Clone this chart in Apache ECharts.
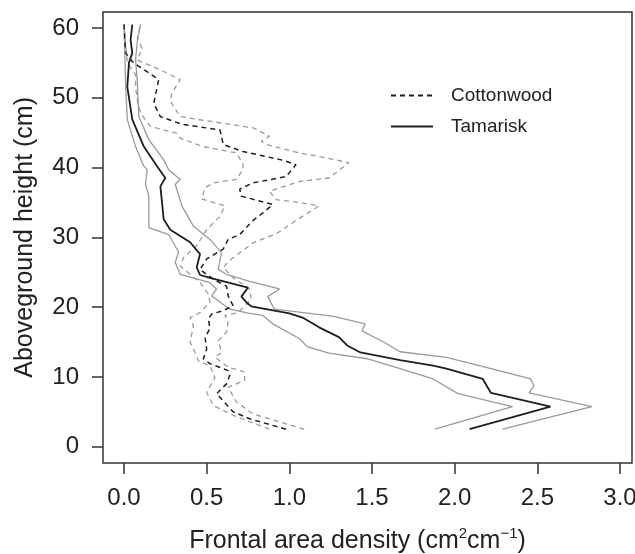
<!DOCTYPE html>
<html lang="en">
<head>
    <meta charset="UTF-8">
    <title>Frontal area density</title>
    <script src="https://cdn.jsdelivr.net/npm/echarts@6/dist/echarts.min.js"></script>
    <style>
        body {
            margin: 0;
            background: #fff;
        }
        #main {
            width: 635px;
            height: 554px;
        }
    </style>
</head>
<body>
    <div id="main"></div>
    <script>
        // [height (cm), frontal area density]
        var cottonwoodMean = [[2.5,0.98],[4,0.76],[5,0.66],[7.6,0.56],[9,0.62],[10.2,0.64],[10.9,0.63],[11.9,0.52],[12.6,0.48],[14,0.5],[15.7,0.49],[16.9,0.52],[18.3,0.51],[19,0.53],[19.5,0.6],[20.2,0.66],[21.6,0.63],[23,0.62],[24,0.54],[25.4,0.46],[26.9,0.5],[28.3,0.6],[29.7,0.63],[30.4,0.7],[32.4,0.78],[33.5,0.84],[34.7,0.9],[35.9,0.71],[36.9,0.7],[37.8,0.78],[38.7,0.98],[40.4,1.04],[41,0.97],[42.3,0.72],[43.3,0.6],[44.5,0.59],[45.4,0.58],[46.2,0.35],[47.3,0.22],[49.2,0.18],[52.6,0.21],[54.5,0.09],[55.2,0.05],[56.4,0.01],[60.5,0.0]]
        var cottonwoodUpper = [[2.5,1.09],[4.7,0.78],[6.4,0.68],[8.5,0.63],[9.5,0.73],[10.7,0.73],[11.4,0.63],[12.8,0.55],[13.5,0.59],[15.2,0.57],[16.4,0.62],[18,0.63],[18.8,0.61],[19.2,0.69],[21.1,0.77],[22.6,0.76],[24.2,0.66],[25.7,0.6],[26.9,0.65],[29.2,0.78],[30.5,0.92],[32.1,1.02],[33,1.08],[34.5,1.18],[35,1.06],[35.4,0.92],[36.6,0.88],[38,1.06],[38.5,1.24],[40.7,1.36],[41.4,1.22],[42.1,1.06],[43.3,0.86],[43.8,0.83],[44.5,0.88],[45.7,0.78],[46.7,0.5],[47.3,0.34],[49.5,0.28],[50.7,0.29],[52.6,0.34],[54,0.22],[55.4,0.08],[57.1,0.11],[58.5,0.08],[60.5,0.1]]
        var cottonwoodLower = [[2.5,0.88],[4.5,0.66],[5.9,0.54],[7.8,0.5],[9.9,0.55],[11.6,0.52],[12.3,0.45],[13.5,0.43],[15,0.4],[17.3,0.42],[18.5,0.4],[19.2,0.46],[20.7,0.52],[21.9,0.51],[23.5,0.46],[25.9,0.34],[27.1,0.36],[28.8,0.44],[31.1,0.5],[33,0.58],[34.5,0.61],[35,0.54],[35.5,0.47],[37.1,0.49],[37.8,0.54],[38.3,0.68],[39.7,0.72],[40.5,0.72],[42.1,0.68],[43,0.48],[44.2,0.34],[44.9,0.32],[45.9,0.16],[47.8,0.1],[49.7,0.08],[51.6,0.07],[53.3,0.07],[55,0.02],[60.5,0.0]]

        var tamariskMean = [[2.5,2.09],[5.75,2.58],[7.7,2.22],[9.7,2.17],[11.2,1.95],[11.6,1.87],[12.4,1.67],[13.5,1.43],[14.5,1.35],[15.7,1.3],[17.1,1.18],[18.5,1.08],[19.1,1.0],[20.1,0.77],[20.7,0.74],[21.5,0.71],[22.8,0.75],[24.2,0.52],[24.6,0.46],[25.7,0.44],[27.6,0.46],[29.3,0.4],[31.1,0.28],[32.6,0.24],[35,0.23],[37.3,0.22],[38.5,0.25],[40.2,0.2],[43,0.12],[46.9,0.05],[51.6,0.02],[55,0.03],[56.4,0.05],[58.3,0.04],[60.5,0.05]]
        var tamariskUpper = [[2.5,2.29],[5.75,2.83],[7.7,2.45],[8.7,2.48],[9.7,2.46],[11.6,2.15],[12.8,1.95],[13.6,1.67],[15,1.57],[16.6,1.44],[17.6,1.46],[18.7,1.26],[19.7,0.91],[21.5,0.87],[22.6,0.94],[23.7,0.76],[24.7,0.62],[25.4,0.57],[27.8,0.59],[29.7,0.52],[31.6,0.42],[34.5,0.35],[37.6,0.31],[38.3,0.34],[39.7,0.27],[41.1,0.24],[44,0.15],[47.3,0.09],[52.6,0.08],[55.4,0.07],[58,0.08],[60.5,0.1]]
        var tamariskLower = [[2.5,1.88],[5.75,2.35],[7.6,2.02],[9.7,1.87],[11.2,1.67],[12.6,1.47],[13.4,1.24],[14.3,1.11],[15.5,1.06],[17.6,0.9],[18.8,0.84],[19.1,0.76],[19.7,0.64],[21.6,0.53],[22.6,0.56],[23.5,0.52],[24.7,0.34],[26.4,0.31],[27.9,0.33],[30.4,0.27],[31.4,0.15],[35.9,0.15],[37.6,0.13],[39.7,0.14],[40.2,0.12],[43,0.07],[46.9,0.02],[51.6,0.01],[60.5,0.0]]

        var font = 'Liberation Sans, Arial, sans-serif'
        var black = '#1e1e1e'
        var grey = '#9a9a9a'

        function xy(rows) {
            return rows.map(function(r) { return [r[1], r[0]] })
        }

        function line(name, rows, color, width, dashed) {
            return {
                name: name,
                type: 'line',
                xAxisIndex: 0,
                yAxisIndex: 0,
                data: xy(rows),
                symbol: 'none',
                animation: false,
                lineStyle: {
                    color: color,
                    width: width,
                    type: dashed ? [5, 4] : 'solid'
                },
                itemStyle: { color: color }
            }
        }

        var myChart = echarts.init(document.getElementById('main'))

        var tickStyle = {
            show: true,
            length: 11,
            lineStyle: { color: '#333', width: 1.5 }
        }
        var bare = {
            type: 'value',
            axisLine: { show: false, onZero: false },
            axisTick: { show: false },
            axisLabel: { show: false },
            splitLine: { show: false }
        }

        // grid 0 holds the data and the box, grid 1 the x ticks (0..3), grid 2 the y ticks (0..60)
        var option = {
            backgroundColor: '#fff',
            textStyle: { fontFamily: font },
            grid: [{
                show: true,
                left: 103, right: 3, top: 12, bottom: 91,
                borderColor: '#333',
                borderWidth: 1.5,
                outerBoundsMode: 'none'
            }, {
                left: 124, right: 15, top: 12, bottom: 91,
                outerBoundsMode: 'none'
            }, {
                left: 103, right: 3, top: 28, bottom: 107.3,
                outerBoundsMode: 'none'
            }],
            legend: {
                data: ['Cottonwood', 'Tamarisk'],
                orient: 'vertical',
                left: 390,
                top: 86,
                padding: 0,
                itemWidth: 42,
                itemHeight: 14,
                itemGap: 12,
                itemStyle: { opacity: 0 },
                textStyle: {
                    fontSize: 19,
                    color: '#222',
                    fontFamily: font,
                    padding: [0, 0, 0, 13]
                }
            },
            xAxis: [
                Object.assign({}, bare, { gridIndex: 0, min: -0.127, max: 3.073 }),
                {
                    type: 'value',
                    gridIndex: 1,
                    min: 0,
                    max: 3,
                    interval: 0.5,
                    position: 'bottom',
                    axisLine: { show: false, onZero: false },
                    splitLine: { show: false },
                    axisTick: tickStyle,
                    axisLabel: {
                        margin: 23,
                        fontSize: 24,
                        color: '#222',
                        fontFamily: font,
                        formatter: function(v) { return v.toFixed(1) }
                    },
                    name: '{a|Frontal area density (cm}{s|2}{a|cm}{s|\u22121}{a|)}',
                    nameLocation: 'middle',
                    nameGap: 63,
                    nameTextStyle: {
                        padding: [0, 29, 0, 0],
                        rich: {
                            a: { fontSize: 25, color: '#222', fontFamily: font, lineHeight: 30 },
                            s: { fontSize: 15, color: '#222', fontFamily: font, verticalAlign: 'top', lineHeight: 14 }
                        }
                    }
                },
                Object.assign({}, bare, { gridIndex: 2, min: 0, max: 1, show: false })
            ],
            yAxis: [
                Object.assign({}, bare, { gridIndex: 0, min: -2.34, max: 62.29 }),
                Object.assign({}, bare, { gridIndex: 1, min: 0, max: 1, show: false }),
                {
                    type: 'value',
                    gridIndex: 2,
                    min: 0,
                    max: 60,
                    interval: 10,
                    position: 'left',
                    axisLine: { show: false, onZero: false },
                    splitLine: { show: false },
                    axisTick: tickStyle,
                    axisLabel: {
                        margin: 24,
                        fontSize: 24,
                        color: '#222',
                        fontFamily: font
                    },
                    name: 'Aboveground height (cm)',
                    nameLocation: 'middle',
                    nameGap: 65,
                    nameTextStyle: {
                        fontSize: 25,
                        color: '#222',
                        fontFamily: font
                    }
                }
            ],
            series: [
                line('Tamarisk upper', tamariskUpper, grey, 1.3, false),
                line('Tamarisk lower', tamariskLower, grey, 1.3, false),
                line('Cottonwood upper', cottonwoodUpper, grey, 1.3, true),
                line('Cottonwood lower', cottonwoodLower, grey, 1.3, true),
                line('Cottonwood', cottonwoodMean, black, 1.5, true),
                line('Tamarisk', tamariskMean, black, 1.8, false)
            ]
        }
        myChart.setOption(option)
    </script>
</body>
</html>
